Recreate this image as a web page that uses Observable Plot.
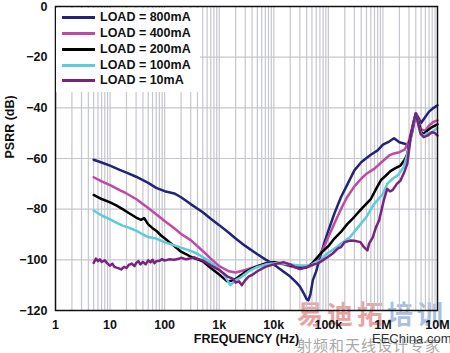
<!DOCTYPE html>
<html><head><meta charset="utf-8">
<script src="https://cdn.jsdelivr.net/npm/d3@7"></script>
<script src="https://cdn.jsdelivr.net/npm/@observablehq/plot@0.6"></script>
<style>
body{margin:0;background:#fff;}
#wrap{position:relative;width:450px;height:353px;font-family:"Liberation Sans",Arial,sans-serif;}
#chart{position:absolute;left:0;top:0;z-index:1;}
#legend{position:absolute;left:56px;top:8px;width:144px;height:84px;background:#fff;z-index:2;}
.item{position:absolute;left:0;height:16px;line-height:16px;font-weight:bold;font-size:12.5px;color:#111;white-space:nowrap;}
.sw{position:absolute;left:6px;top:7px;width:33px;height:3px;}
.lab{position:absolute;left:44px;top:0;}
.wm{position:absolute;z-index:0;white-space:nowrap;font-family:"Noto Sans CJK SC",sans-serif;}
</style>
</head><body>
<div id="wrap">
  <div id="chart"></div>
  <div id="legend"></div>
  <div class="wm" style="left:297px;top:294px;font-size:26px;font-weight:bold;letter-spacing:4px;"><span style="color:#e8a3a3">易迪拓</span><span style="color:#a9bfe4">培训</span></div>
  <div class="wm" style="left:297px;top:334px;font-size:15px;letter-spacing:1px;color:#a8a8a8;">射频和天线设计专家</div>
  <div class="wm" style="left:372px;top:331px;font-size:13px;color:#333;font-family:'Liberation Sans',Arial,sans-serif;">EEChina.com</div>
</div>
<script>
// ---- data (frequency Hz, PSRR dB) ----
const load800 = [[5,-60.5],[7,-61.6],[10,-62.8],[15,-64.5],[20,-65.6],[30,-67.2],[50,-69.6],[70,-71.6],[100,-72.9],[150,-73.8],[200,-75.3],[300,-78],[500,-81.2],[700,-83.8],[1000,-86.3],[1500,-89.3],[2000,-91.6],[3000,-94.5],[5000,-97.8],[7000,-99.8],[10000,-101.8],[15000,-104.6],[20000,-106.6],[25000,-108.6],[30000,-110.5],[35000,-113],[40000,-115.5],[43000,-116],[47000,-113.5],[52000,-108],[60000,-104.5],[70000,-99],[85000,-93],[100000,-88.5],[130000,-81.5],[170000,-75.3],[220000,-70.5],[300000,-64.7],[400000,-61.5],[500000,-59.8],[600000,-58.5],[800000,-56.8],[1000000,-54.5],[1300000,-53.3],[1600000,-52],[2000000,-53.6],[2500000,-54.2],[3000000,-54.6],[3500000,-49],[4000000,-42.2],[4500000,-44],[5000000,-46],[6000000,-43.5],[7000000,-41.5],[8500000,-40],[10000000,-39]];
const load400 = [[5,-67.4],[7,-69],[10,-70.5],[15,-72.5],[20,-73.8],[30,-76],[50,-79.5],[70,-82],[100,-84.7],[150,-87.5],[200,-89.8],[300,-92.2],[500,-96.5],[700,-99.5],[1000,-102.5],[1500,-104.5],[2000,-105],[3000,-104],[5000,-102.5],[7000,-101.3],[10000,-101],[15000,-101.8],[20000,-102.5],[30000,-103.4],[40000,-103],[50000,-102.3],[60000,-100.5],[70000,-98],[85000,-94.5],[100000,-91],[130000,-85.5],[170000,-80],[220000,-75.3],[300000,-71],[400000,-68],[500000,-66],[700000,-64],[1000000,-61],[1300000,-58.8],[1600000,-58],[2000000,-57.5],[2500000,-56.5],[3000000,-53],[3500000,-47],[4000000,-42.2],[4500000,-45],[5000000,-48.5],[6000000,-49],[7000000,-47],[8500000,-45.5],[10000000,-45]];
const load200 = [[5,-74.4],[7,-76],[10,-77.3],[13,-78.5],[17,-80],[22,-81.5],[30,-83.3],[37,-84.2],[42,-83.5],[50,-86],[60,-87.5],[70,-88.5],[85,-90.3],[100,-91.5],[130,-93.5],[170,-95.5],[200,-96.8],[250,-97.8],[300,-98.8],[400,-99.8],[500,-100.6],[700,-103.2],[1000,-105.8],[1400,-108.5],[1800,-108.2],[2200,-106.9],[3000,-104.8],[4500,-102.9],[7000,-101.5],[10000,-100.9],[15000,-101.5],[20000,-102.2],[30000,-102.8],[40000,-102.9],[50000,-101.5],[63000,-99],[80000,-96.5],[100000,-94.6],[130000,-91.5],[170000,-89],[220000,-86],[300000,-83],[400000,-80],[600000,-76],[750000,-72],[920000,-68.5],[1100000,-67],[1370000,-65],[1700000,-63.8],[2100000,-62.8],[2500000,-60.5],[2800000,-58.2],[3300000,-50],[4000000,-42.2],[4500000,-46],[5000000,-49.5],[5600000,-50.3],[6500000,-49],[7900000,-47.6],[10000000,-46.5]];
const load100 = [[5,-80.5],[7,-82.5],[10,-84],[13,-85.3],[17,-86.5],[22,-87.3],[30,-88.5],[40,-90],[50,-91],[70,-91.6],[100,-93],[150,-94.3],[200,-95.2],[300,-96.5],[400,-97.6],[600,-100],[900,-102.8],[1200,-105.5],[1600,-110],[2000,-108],[2500,-106.9],[3500,-104.5],[5000,-102.8],[7700,-101.6],[12000,-101.2],[20000,-101.8],[30000,-102.2],[47000,-102.2],[60000,-100.8],[72000,-100.3],[85000,-98.5],[100000,-97.2],[130000,-95.5],[170000,-93.7],[250000,-91],[340000,-87.5],[500000,-83],[685000,-78],[1000000,-74],[1200000,-70],[1500000,-68],[1900000,-66.5],[2400000,-63.4],[3000000,-56],[3500000,-48],[4000000,-42.2],[4500000,-47],[5000000,-50.3],[5600000,-51],[6500000,-50],[7900000,-49.6],[10000000,-48]];
const load10 = [[5,-101.2],[5.5,-99.5],[6,-100.5],[6.5,-99.8],[7,-100.8],[8,-100.2],[9,-101.5],[10,-102.3],[11,-101.5],[12,-102.8],[14,-103.3],[16,-103.8],[18,-102.8],[20,-103.2],[22,-102],[25,-101.5],[28,-102.5],[30,-101.3],[33,-100.5],[36,-101.8],[40,-100.8],[45,-101.8],[50,-100.2],[55,-101],[60,-100],[65,-101.3],[70,-100.6],[80,-100.4],[90,-99.7],[100,-100.3],[120,-99.8],[150,-100],[180,-99.6],[200,-99.2],[250,-99.8],[300,-99.4],[350,-99],[400,-99.6],[500,-100.2],[700,-102.2],[1000,-104],[1400,-106.5],[1800,-107.5],[2000,-109],[2300,-108.5],[2600,-110],[3000,-108],[3500,-106.5],[4000,-106],[5000,-104.5],[7000,-102.8],[10000,-101.8],[15000,-100.9],[20000,-101.8],[25000,-103],[30000,-103.6],[40000,-102.9],[50000,-102],[63000,-101.5],[75000,-100.5],[96000,-99],[120000,-97.5],[150000,-95.5],[170000,-95],[200000,-93],[256000,-92.4],[300000,-92.5],[387000,-93],[450000,-95],[520000,-96.3],[560000,-93.5],[650000,-91.1],[750000,-87],[850000,-84.5],[950000,-80],[1050000,-76],[1200000,-72],[1350000,-73],[1500000,-72.5],[1800000,-70],[2100000,-68.7],[2500000,-65],[2800000,-62],[3200000,-52],[3700000,-45],[4000000,-42.2],[4500000,-47],[4900000,-50.3],[5600000,-51.6],[6500000,-51],[7900000,-49.6],[9000000,-50],[10000000,-51]];

const seriesNames = ["LOAD = 800mA","LOAD = 400mA","LOAD = 200mA","LOAD = 100mA","LOAD = 10mA"];
const seriesData = [load800, load400, load200, load100, load10];
const seriesColors = ["#232378","#bf4aa6","#000000","#5ccbdc","#7a2282"];

const xTicks = [1,10,100,1000,10000,100000,1000000,10000000];
const xTickLabels = ["1","10","100","1k","10k","100k","1M","10M"];
const yTicks = [0,-20,-40,-60,-80,-100,-120];

// ---- build ----
const rows = [];
seriesData.forEach((arr, si) => arr.forEach(([f, v]) => rows.push({f, v, s: seriesNames[si]})));
const gridX = [];
for (let e = 0; e < 7; e++) for (let m = 1; m <= 9; m++) { const v = m * 10 ** e; if (v > 1 && v < 1e7) gridX.push(v); }
const xLab = new Map(xTicks.map((v, i) => [v, xTickLabels[i]]));
const drawOrder = [0,1,2,3,4];

const chart = Plot.plot({
  width: 450, height: 353,
  marginLeft: 55, marginRight: 13, marginTop: 6, marginBottom: 43,
  style: {background: "transparent", fontFamily: "'Liberation Sans', Arial, sans-serif", fontWeight: "bold", fontSize: "12px", color: "#111"},
  x: {type: "log", domain: [1, 1e7]},
  y: {domain: [-120, 0]},
  marks: [
    Plot.ruleX(gridX, {stroke: "#c6c6cf", strokeWidth: 1.2}),
    Plot.ruleY(yTicks.filter(d => d > -120 && d < 0), {stroke: "#c6c6cf", strokeWidth: 1.2}),
    ...drawOrder.map(i => Plot.line(rows.filter(r => r.s === seriesNames[i]), {x: "f", y: "v", stroke: seriesColors[i], strokeWidth: 2.5, strokeLinejoin: "round"})),
    Plot.frame({stroke: "#111", strokeWidth: 1.5}),
    Plot.axisX({ticks: xTicks, tickFormat: d => xLab.get(d), tickSize: 0, tickPadding: 10, label: null, fontSize: 12.5}),
    Plot.axisY({ticks: yTicks, tickFormat: d => d === 0 ? "0" : "\u2212" + Math.abs(d), tickSize: 0, tickPadding: 8, label: null, fontSize: 12.5}),
    Plot.text(["PSRR (dB)"], {frameAnchor: "left", dx: -46, rotate: -90, text: d => d, fontSize: 12.5}),
    Plot.text(["FREQUENCY (Hz)"], {frameAnchor: "bottom", dy: 32, text: d => d, fontSize: 12.5})
  ]
});
document.getElementById("chart").appendChild(chart);

const legend = document.getElementById("legend");
const rowTops = [1, 17, 33, 48.5, 64];
seriesNames.forEach((n, i) => {
  const it = document.createElement("div");
  it.className = "item";
  it.style.top = rowTops[i] + "px";
  it.innerHTML = `<div class="sw" style="background:${seriesColors[i]}"></div><div class="lab">${n}</div>`;
  legend.appendChild(it);
});
</script>
</body></html>
